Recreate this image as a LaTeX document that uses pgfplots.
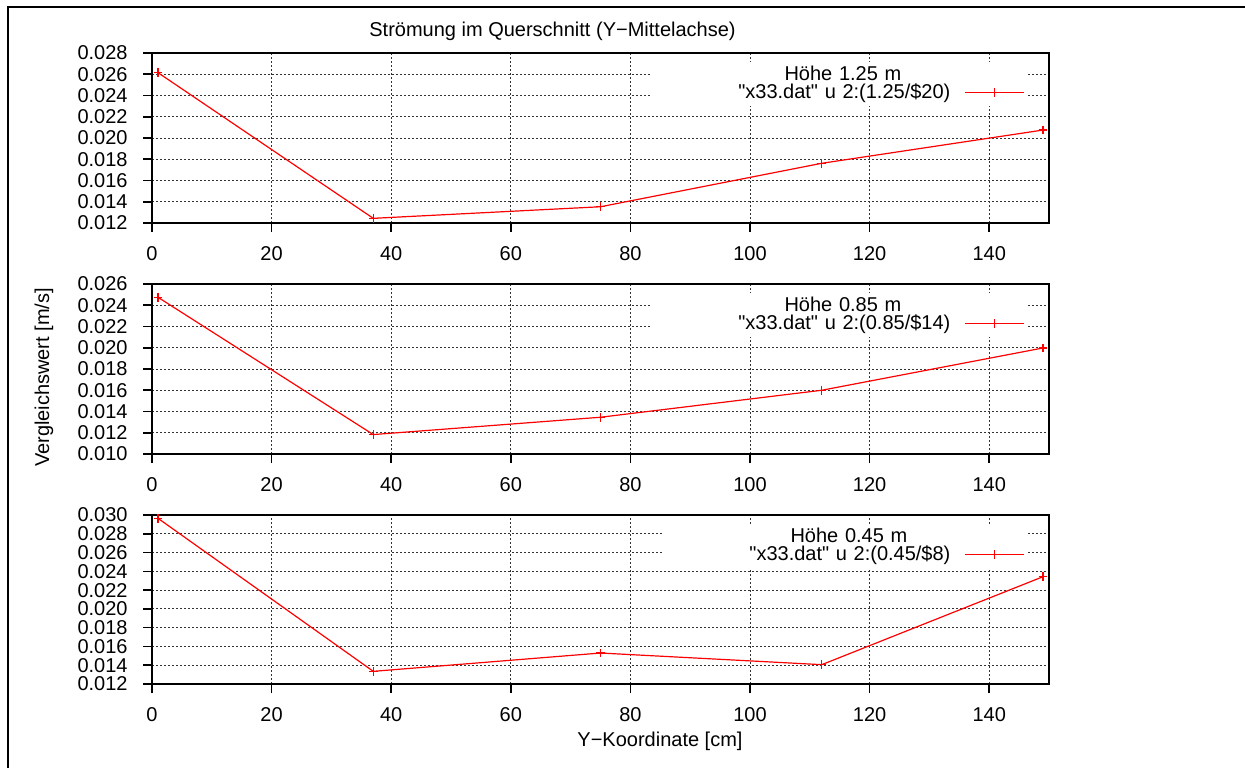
\documentclass[border=0pt]{standalone}
\usepackage{fontspec}
\setmainfont{Liberation Sans}[Ligatures=TeXOff]
\usepackage{pgfplots}
\pgfplotsset{compat=1.18}

\pgfplotstableread{
x y
1   0.02615
37  0.01244
75  0.01353
112 0.01762
149 0.02075
}\dataA
\pgfplotstableread{
x y
1   0.02475
37  0.01183
75  0.01346
112 0.01600
149 0.01998
}\dataB
\pgfplotstableread{
x y
1   0.02965
37  0.01335
75  0.01530
112 0.01406
149 0.02343
}\dataC

\pgfplotsset{
  panel/.style={
    scale only axis, width=448.5pt,
    xmin=0, xmax=150, xtick={0,20,40,60,80,100,120,140},
    scaled y ticks=false, scaled x ticks=false,
    tick pos=left, tick align=outside, major tick length=4.5pt,
    grid=major,
    major grid style={black!80, line width=0.5pt, dash pattern=on 1pt off 1pt},
    axis line style={line width=0.8pt},
    every tick/.style={black, line width=0.8pt},
    /pgf/number format/assume math mode=true,
    tick label style={font=\fontsize{10}{12}\selectfont},
    yticklabel style={/pgf/number format/.cd, fixed, fixed zerofill, precision=3, assume math mode=true, /tikz/.cd, inner sep=0pt, anchor=east, xshift=-7.5pt},
    xticklabel style={inner sep=0pt, anchor=north, yshift=-6.9pt},
    legend plot pos=right,
    legend style={at={(0.9766,0.947)}, anchor=north east, fill=white, draw=none,
      inner sep=1.5pt, row sep=-1pt, column sep=7pt,
      font=\fontsize{10}{12}\selectfont,
      cells={anchor=east},
      nodes={inner sep=0pt, text height=7.5pt, text depth=2.5pt}},
    legend image code/.code={%
      \draw[mark repeat=2,mark phase=2]
        plot coordinates {(0pt,0.5pt) (14.75pt,0.5pt) (29.5pt,0.5pt)};},
  },
  dat/.style={red, line width=0.6pt, mark=+, mark size=2.2pt, mark options={solid}},
}

\begin{document}
\begin{tikzpicture}
\useasboundingbox (0,0) rectangle (622.5pt,383.5pt);
\draw[line width=1.2pt] (4pt,-2pt) -- (4pt,380pt) -- (625pt,380pt);

% panel 1
\begin{axis}[panel, at={(76pt,272pt)}, anchor=south west, height=85pt,
  ymin=0.012, ymax=0.028,
  ytick={0.012,0.014,0.016,0.018,0.020,0.022,0.024,0.026,0.028}]
\addlegendimage{empty legend}
\addlegendentry[text width=107.5pt, align=center]{Höhe 1.25 m}
\addplot[dat] table[x=x,y=y] {\dataA};
\addlegendentry[text width=147.5pt, align=right]{"x33.dat" u 2:(1.25/\$20)}
\end{axis}

% panel 2
\begin{axis}[panel, at={(76pt,156.5pt)}, anchor=south west, height=85pt,
  ymin=0.010, ymax=0.026,
  ytick={0.010,0.012,0.014,0.016,0.018,0.020,0.022,0.024,0.026}]
\addlegendimage{empty legend}
\addlegendentry[text width=107.5pt, align=center]{Höhe 0.85 m}
\addplot[dat] table[x=x,y=y] {\dataB};
\addlegendentry[text width=147.5pt, align=right]{"x33.dat" u 2:(0.85/\$14)}
\end{axis}

% panel 3
\begin{axis}[panel, at={(76pt,41.5pt)}, anchor=south west, height=84.5pt,
  ymin=0.012, ymax=0.030,
  ytick={0.012,0.014,0.016,0.018,0.020,0.022,0.024,0.026,0.028,0.030}]
\addlegendimage{empty legend}
\addlegendentry[text width=101.5pt, align=center]{Höhe 0.45 m}
\addplot[dat] table[x=x,y=y] {\dataC};
\addlegendentry[text width=141.5pt, align=right]{"x33.dat" u 2:(0.45/\$8)}
\end{axis}

\node[anchor=base, inner sep=0pt, font=\fontsize{10}{12}\selectfont] at (276.25pt,365pt) {Strömung im Querschnitt (Y−Mittelachse)};
\node[anchor=base, inner sep=0pt, font=\fontsize{10}{12}\selectfont] at (330pt,10.5pt) {Y−Koordinate [cm]};
\node[rotate=90, inner sep=0pt, font=\fontsize{10}{12}\selectfont] at (22pt,194.75pt) {Vergleichswert [m/s]};
\end{tikzpicture}
\end{document}
